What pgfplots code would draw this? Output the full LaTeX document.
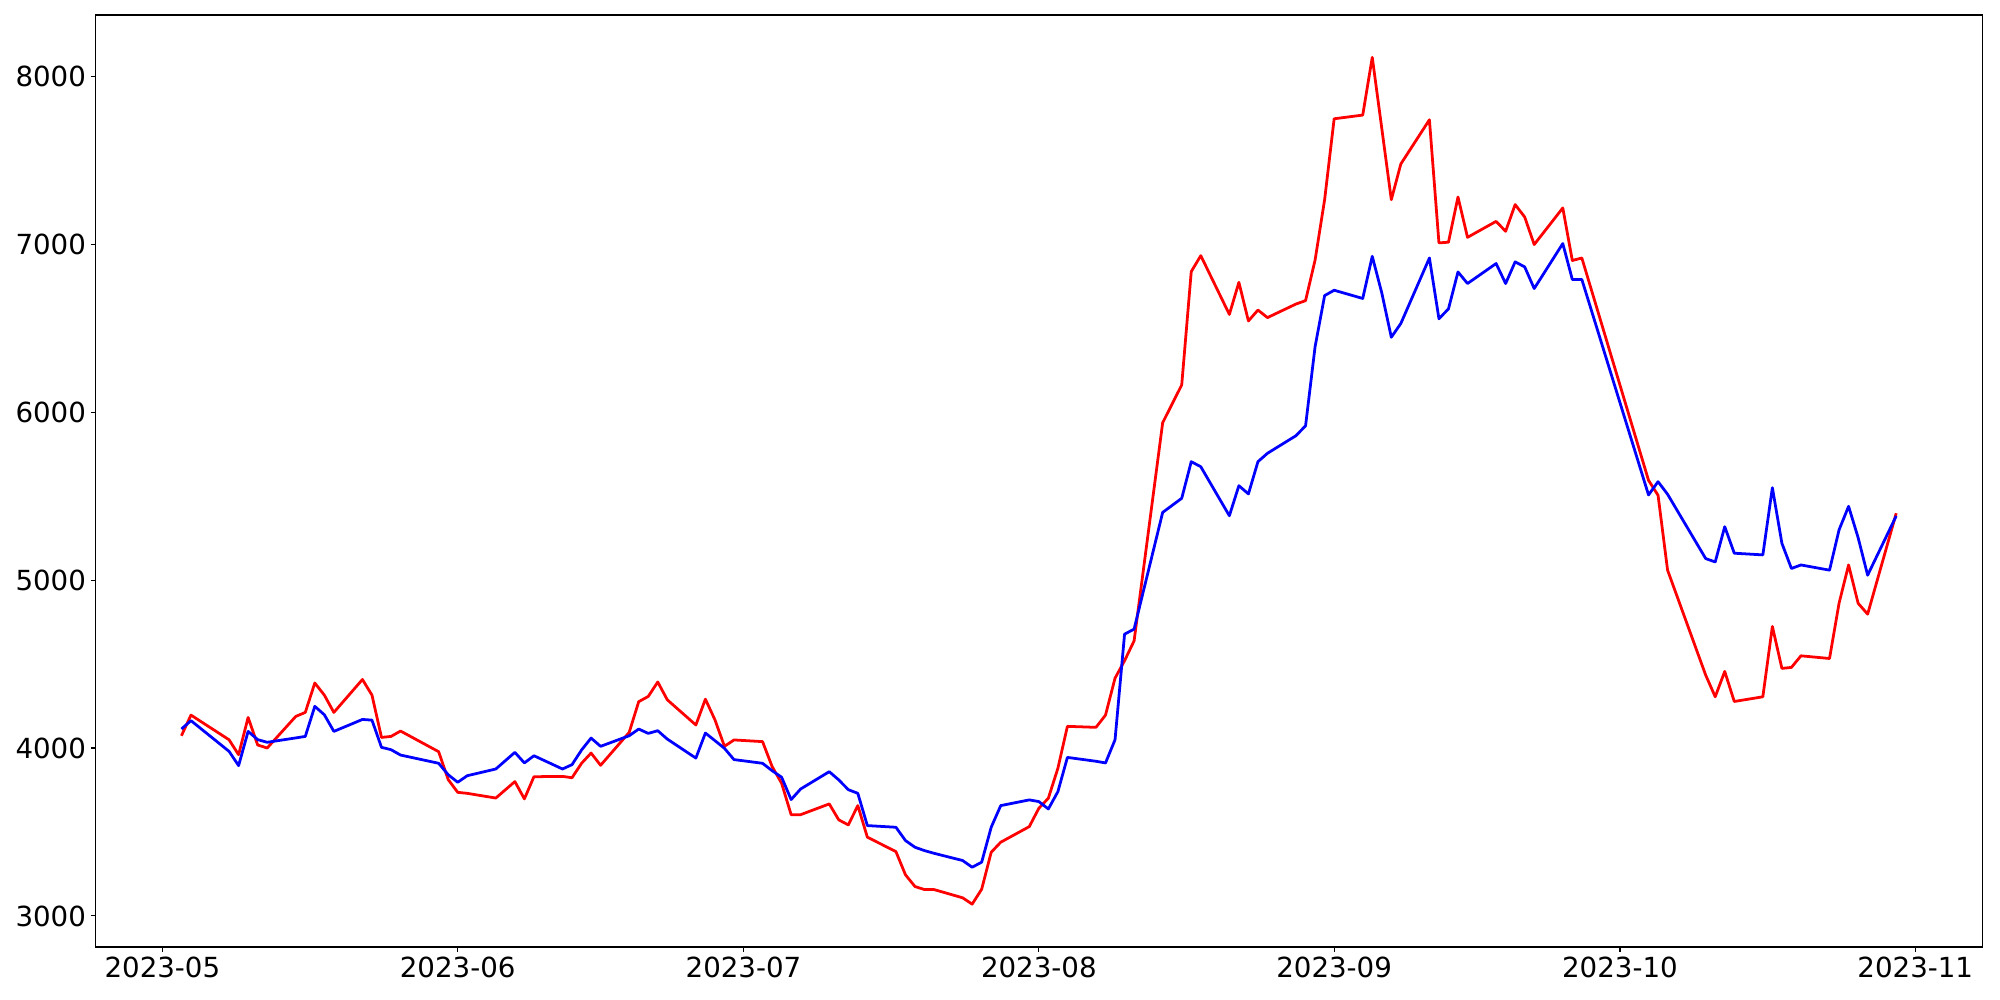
\documentclass[border=0pt]{standalone}
\usepackage{pgfplots}
\pgfplotsset{compat=1.18}
\usepackage{fontspec}
\setmainfont{DejaVu Sans}
\pgfplotstableread{
day red blue
2 4073 4113
3 4196 4163
7 4049 3980
8 3960 3895
9 4182 4099
10 4018 4050
11 4000 4034
14 4188 4060
15 4212 4069
16 4387 4248
17 4315 4198
18 4212 4099
21 4408 4170
22 4315 4166
23 4063 4004
24 4069 3990
25 4101 3958
29 3978 3909
30 3812 3841
31 3736 3796
32 3730 3835
35 3702 3875
37 3800 3974
38 3697 3911
39 3829 3954
42 3831 3875
43 3823 3901
44 3909 3988
45 3970 4059
46 3897 4010
49 4093 4073
50 4276 4113
51 4307 4087
52 4393 4103
53 4287 4053
56 4137 3940
57 4291 4089
58 4168 4044
59 4010 3998
60 4048 3931
63 4038 3909
64 3890 3865
65 3790 3826
66 3603 3693
67 3603 3756
70 3667 3859
71 3572 3810
72 3542 3752
73 3657 3730
74 3469 3538
77 3383 3528
78 3245 3449
79 3175 3409
80 3157 3389
81 3157 3373
84 3108 3330
85 3070 3290
86 3159 3320
87 3379 3528
88 3439 3657
91 3532 3691
92 3641 3681
93 3701 3637
94 3879 3740
95 4129 3944
98 4123 3921
99 4196 3911
100 4416 4049
101 4520 4678
102 4638 4708
105 5937 5403
107 6162 5487
108 6837 5705
109 6932 5675
112 6582 5383
113 6773 5562
114 6543 5513
115 6608 5705
116 6563 5755
119 6644 5860
120 6664 5919
121 6906 6390
122 7265 6694
123 7747 6726
126 7769 6677
127 8113 6928
128 7690 6710
129 7265 6446
130 7478 6528
133 7741 6918
134 7008 6556
135 7012 6615
136 7281 6835
137 7041 6766
140 7136 6885
141 7077 6766
142 7236 6895
143 7162 6865
144 6998 6736
147 7216 7004
148 6903 6790
149 6918 6790
156 5594 5507
157 5505 5586
158 5059 5511
162 4434 5128
163 4305 5108
164 4456 5318
165 4277 5160
168 4305 5150
169 4724 5550
170 4474 5219
171 4480 5069
172 4549 5090
175 4533 5059
176 4862 5299
177 5090 5439
178 4862 5253
179 4797 5029
182 5398 5382
}\datatable
\begin{document}
\begin{tikzpicture}
\path[use as bounding box] (0,0) rectangle (20in,10in);
\begin{axis}[
  at={(0.957in,0.53in)}, anchor=south west,
  width=18.87in, height=9.32in, scale only axis,
  xmin=-7, xmax=191.08, ymin=2815, ymax=8365,
  xtick={0,31,61,92,123,153,184},
  xticklabels={2023-05,2023-06,2023-07,2023-08,2023-09,2023-10,2023-11},
  ytick={3000,4000,5000,6000,7000,8000},
  scaled y ticks=false,
  /pgf/number format/assume math mode=true,
  /pgf/number format/1000 sep={},
  tick align=outside, tick pos=left,
  major tick length=3.5pt,
  every tick/.style={black, line width=0.8pt},
  axis line style={black, line width=0.8pt},
  tick label style={font=\fontsize{20}{24}\selectfont},
  clip=true,
]
\addplot[red, line width=2pt, line join=round] table[x=day, y=red] {\datatable};
\addplot[blue, line width=2pt, line join=round] table[x=day, y=blue] {\datatable};
\end{axis}
\end{tikzpicture}
\end{document}
